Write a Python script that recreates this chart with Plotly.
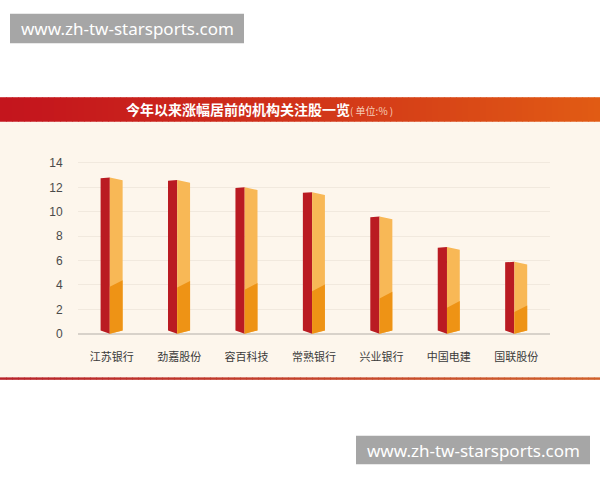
import plotly.graph_objects as go

# ---- data ----
categories = ["江苏银行", "劲嘉股份", "容百科技", "常熟银行", "兴业银行", "中国电建", "国联股份"]
values = [12.8, 12.6, 12.0, 11.6, 9.6, 7.1, 5.9]
y_ticks = [0, 2, 4, 6, 8, 10, 12, 14]
title_main = "今年以来涨幅居前的机构关注股一览"
title_unit = "( 单位:% )"
watermark = "www.zh-tw-starsports.com"

W, H = 600, 480
CJK = "Noto Sans CJK SC"

# ---- style constants ----
RED = "#BA1B22"
LIGHT = "#F8B856"
DARK = "#EE9315"
XL, XM, XR = -0.165, -0.028, 0.162   # face edges relative to category center
TOP_DROP_L, TOP_DROP_R = 0.05, 0.22
BOT_RISE = 0.27
DARK_FRAC, DARK_SLOPE = 0.30, 0.55


def px(x):
    return x / W


def py(y):
    return 1 - y / H


red_x, red_y, lt_x, lt_y, dk_x, dk_y = [], [], [], [], [], []
for i, v in enumerate(values):
    xl, xm, xr = i + XL, i + XM, i + XR
    red_x += [xl, xm, xm, xl, xl, None]
    red_y += [v - TOP_DROP_L, v, 0, BOT_RISE, v - TOP_DROP_L, None]
    lt_x += [xm, xr, xr, xm, xm, None]
    lt_y += [v, v - TOP_DROP_R, BOT_RISE, 0, v, None]
    h = DARK_FRAC * v
    dk_x += [xm, xr, xr, xm, xm, None]
    dk_y += [h, h + DARK_SLOPE, BOT_RISE, 0, h, None]

fig = go.Figure()
for xs, ys, c in [(red_x, red_y, RED), (lt_x, lt_y, LIGHT), (dk_x, dk_y, DARK)]:
    fig.add_trace(go.Scatter(x=xs, y=ys, fill="toself", fillcolor=c, mode="lines",
                             line=dict(width=0, color=c), hoverinfo="skip", showlegend=False))

shapes = []
# cream panel
shapes.append(dict(type="rect", xref="paper", yref="paper", x0=0, x1=1, y0=py(381), y1=py(120),
                   fillcolor="#FDF6EC", line=dict(width=0), layer="below"))


def lerp(c1, c2, t):
    a = [int(c1[k:k + 2], 16) for k in (1, 3, 5)]
    b = [int(c2[k:k + 2], 16) for k in (1, 3, 5)]
    return "#%02X%02X%02X" % tuple(round(a[j] + (b[j] - a[j]) * t) for j in range(3))


N = 100
for k in range(N):
    t = k / (N - 1)
    col = lerp("#C4151D", "#E15B14", t ** 1.2)
    x0 = px(W * k / N)
    x1 = px(W * (k + 1) / N + 0.6)
    shapes.append(dict(type="rect", xref="paper", yref="paper", x0=x0, x1=x1, y0=py(120), y1=py(95),
                       fillcolor=col, line=dict(width=0), layer="below"))
    shapes.append(dict(type="rect", xref="paper", yref="paper", x0=x0, x1=x1, y0=py(383), y1=py(380.5),
                       fillcolor=lerp("#B8232A", "#D0602A", t), line=dict(width=0), layer="below"))

# watermark boxes
shapes.append(dict(type="rect", xref="paper", yref="paper", x0=px(10), x1=px(244), y0=py(40), y1=py(10),
                   fillcolor="#A6A6A6", line=dict(width=0), layer="above"))
shapes.append(dict(type="rect", xref="paper", yref="paper", x0=px(356), x1=px(590), y0=py(469), y1=py(440),
                   fillcolor="#A6A6A6", line=dict(width=0), layer="above"))

annotations = [
    dict(xref="paper", yref="paper", x=px(124), y=py(107.5), xanchor="left", yanchor="middle",
         showarrow=False,
         text="<b>%s</b><span style='font-size:10px;color:#F6CDB8'>%s</span>" % (title_main, title_unit),
         font=dict(family=CJK, size=14, color="#FFFFFF")),
    dict(xref="paper", yref="paper", x=px(127), y=py(25), xanchor="center", yanchor="middle",
         showarrow=False, text=watermark, font=dict(family="Noto Sans", size=17, color="#FFFFFF")),
    dict(xref="paper", yref="paper", x=px(473), y=py(455), xanchor="center", yanchor="middle",
         showarrow=False, text=watermark, font=dict(family="Noto Sans", size=17, color="#FFFFFF")),
]

unit = 174 / 14.0
ylo, yhi = -0.2, 14.2
fig.update_layout(
    width=W, height=H,
    margin=dict(l=0, r=0, t=0, b=0),
    paper_bgcolor="#FFFFFF", plot_bgcolor="rgba(0,0,0,0)",
    shapes=shapes, annotations=annotations,
    xaxis=dict(domain=[px(78), px(550)], range=[-0.5, 6.5], tickvals=list(range(len(categories))),
               ticktext=categories, showgrid=False, zeroline=False, showline=False,
               ticks="outside", ticklen=11, tickcolor="rgba(0,0,0,0)",
               tickfont=dict(family=CJK, size=11, color="#3A3A3A"), fixedrange=True),
    yaxis=dict(domain=[py(336 - ylo * unit), py(336 - yhi * unit)], range=[ylo, yhi],
               tickvals=y_ticks, ticktext=[str(t) for t in y_ticks],
               showgrid=True, gridcolor="#F1E9DE", gridwidth=1,
               zeroline=True, zerolinecolor="#D8D2CA", zerolinewidth=1.5, showline=False,
               ticks="outside", ticklen=12, tickcolor="rgba(0,0,0,0)",
               tickfont=dict(family="Liberation Sans", size=12, color="#4A4A4A"), fixedrange=True),
    showlegend=False,
)

fig.write_html("out.html", config={"displayModeBar": False},
               post_script="document.body.style.margin='0';document.body.style.padding='0';")
